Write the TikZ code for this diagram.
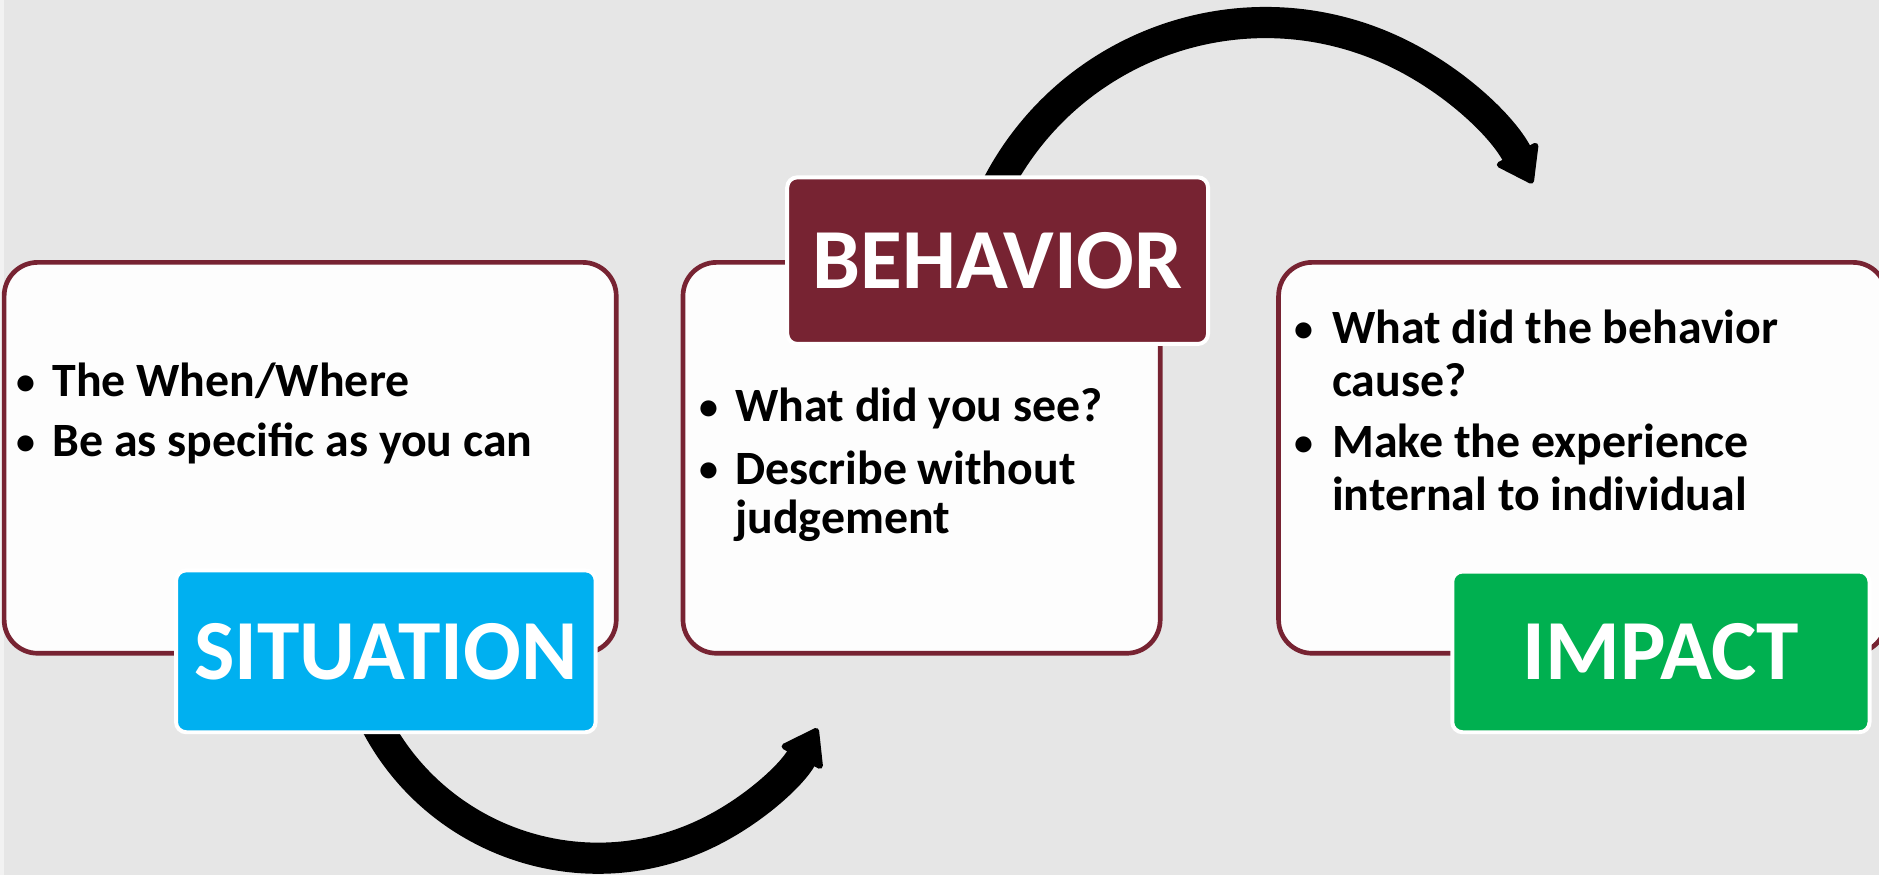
\documentclass[tikz,border=0pt]{standalone}
\usepackage{fontspec}
\setmainfont{Carlito}
\usetikzlibrary{arrows.meta,calc}
\definecolor{bg}{RGB}{230,230,230}
\definecolor{maroon}{RGB}{119,35,50}
\definecolor{cyanbox}{RGB}{0,176,240}
\definecolor{greenbox}{RGB}{0,176,80}
\definecolor{boxfill}{RGB}{253,253,253}
\definecolor{edgestrip}{RGB}{242,242,242}
\tikzset{
  contentbox/.style={draw=maroon, line width=0.039cm, fill=boxfill, rounded corners=0.28cm, rectangle, inner sep=0pt, anchor=north west, minimum height=3.26cm},
  labelbox/.style={draw=white, line width=0.033cm, rounded corners=0.085cm, rectangle, inner sep=0pt, text=white, font=\fontsize{20.3}{24}\selectfont\bfseries},
  bodytext/.style={font=\fontsize{11.35}{13}\selectfont\bfseries, inner sep=0pt, anchor=base west, text=black},
  bulletmark/.style={font=\fontsize{9}{11}\selectfont\bfseries, inner sep=0pt, anchor=base, text=black, yshift=0.6pt},
  cyclearrow/.style={line width=0.26cm, draw=black, -{Triangle[length=3.1mm,width=4.2mm,line width=0.5mm,round]}}
}
\begin{document}
\begin{tikzpicture}[x=0.01cm,y=0.01cm,yscale=-1]
\useasboundingbox (0,0) rectangle (1568,730);
\fill[bg] (0,0) rectangle (1568,730);
\fill[edgestrip] (0,0) rectangle (3.3,730);

% content boxes
\node[contentbox, minimum width=5.105cm] (sitbox) at (1.5,217) {};
\node[contentbox, minimum width=3.98cm] (behbox) at (568,217) {};
\node[contentbox, minimum width=5.07cm] (impbox) at (1065,217) {};

% cycle arrows
\coordinate (lowc) at (499,507);
\coordinate (upc) at (1056,271);
\draw[cyclearrow] ($(lowc)+(155:2.09cm)$) arc[start angle=155, end angle=28.8, radius=2.09cm];
\draw[cyclearrow] ($(upc)+(-155:2.52cm)$) arc[start angle=-155, end angle=-27.9, radius=2.52cm];

% label boxes
\node[labelbox, fill=cyanbox, minimum width=3.50cm, minimum height=1.35cm] (sitlabel) at (322,543.5) {SITUATION};
\node[labelbox, fill=maroon, minimum width=3.51cm, minimum height=1.39cm] (behlabel) at (832.5,217.5) {BEHAVIOR};
\node[labelbox, fill=greenbox, minimum width=3.48cm, minimum height=1.34cm] (implabel) at (1386,544) {IMPACT};

% situation text
\node[bulletmark] (sb1) at (22,331) {•};
\node[bodytext] (st1) at (43,331) {The When/Where};
\node[bulletmark] (sb2) at (22,381) {•};
\node[bodytext] (st2) at (43,381) {Be as specific as you can};

% behavior text
\node[bulletmark] (bb1) at (592,352) {•};
\node[bodytext] (bt1) at (613,352) {What did you see?};
\node[bulletmark] (bb2) at (592,404) {•};
\node[bodytext] (bt2) at (613,404) {Describe without};
\node[bodytext] (bt3) at (613,445) {judgement};

% impact text
\node[bulletmark] (ib1) at (1088,287) {•};
\node[bodytext] (it1) at (1111,287) {What did the behavior};
\node[bodytext] (it2) at (1111,331) {cause?};
\node[bulletmark] (ib2) at (1088,382) {•};
\node[bodytext] (it3) at (1111,382) {Make the experience};
\node[bodytext] (it4) at (1111,426) {internal to individual};
\end{tikzpicture}
\end{document}
